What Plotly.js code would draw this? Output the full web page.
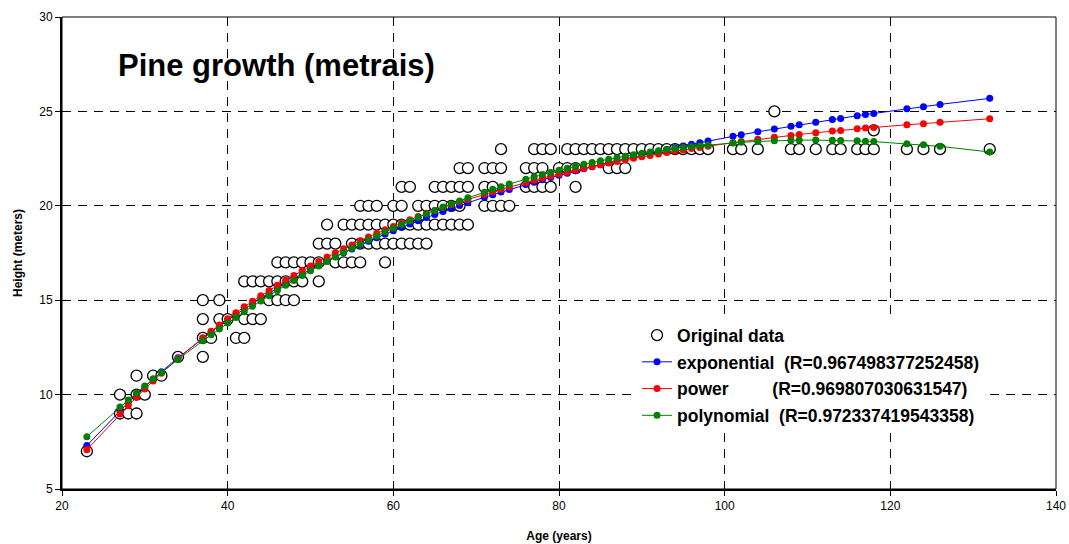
<!DOCTYPE html>
<html>
<head>
<meta charset="utf-8">
<script src="https://cdn.plot.ly/plotly-3.0.1.min.js"></script>
<style>
  html, body { margin: 0; padding: 0; background: #ffffff; }
  #chart { width: 1069px; height: 544px; }
</style>
</head>
<body>
<div id="chart"></div>
<script>
// Measured tree heights (one circle per tree), sorted by age
const obsAge = [23, 27,27, 28, 29,29,29, 30, 31, 32, 34, 37,37,37,37, 38, 39,39, 40, 41, 42,42,42, 43,43, 44,44, 45,45, 46,46,46, 47,47,47, 48,48,48, 49,49, 50, 51,51,51, 52,52, 53,53, 54,54, 55,55,55, 56,56,56,56, 57,57,57, 58,58,58, 59,59,59, 60,60,60, 61,61,61,61, 62,62,62, 63,63,63, 64,64,64, 65,65,65, 66,66,66, 67,67,67, 68,68,68,68, 69,69,69, 71,71,71, 72,72,72, 73,73,73, 74, 76,76, 77,77,77, 78,78,78, 79,79, 80, 81,81, 82,82,82, 83, 84, 85, 86,86, 87,87, 88,88, 89, 90, 91, 92, 93, 94, 95, 96, 97, 98, 101, 102, 104, 106, 108, 109, 111, 113, 114, 116, 117, 118,118, 122, 124, 126, 132];
const obsHeight = [7, 9,10, 9, 9,10,11, 10, 11, 11, 12, 12,13,14,15, 13, 14,15, 14, 13, 13,14,16, 14,16, 14,16, 15,16, 15,16,17, 15,16,17, 15,16,17, 16,17, 17, 16,17,18, 18,19, 17,18, 17,19, 17,18,19, 17,18,19,20, 18,19,20, 18,19,20, 17,18,19, 18,19,20, 18,19,20,21, 18,19,21, 18,19,20, 18,19,20, 19,20,21, 19,20,21, 19,20,21, 19,20,21,22, 19,21,22, 20,21,22, 20,21,22, 20,22,23, 20, 21,22, 21,22,23, 21,22,23, 21,23, 22, 22,23, 21,22,23, 23, 23, 23, 22,23, 22,23, 22,23, 23, 23, 23, 23, 23, 23, 23, 23, 23, 23, 23, 23, 23, 25, 23, 23, 23, 23, 23, 23, 23, 23,24, 23, 23, 23, 23];

// Ages at which the fitted models are evaluated
const fitAge = [23,27,28,29,30,31,32,34,37,38,39,40,41,42,43,44,45,46,47,48,49,50,51,52,53,54,55,56,57,58,59,60,61,62,63,64,65,66,67,68,69,71,72,73,74,76,77,78,79,80,81,82,83,84,85,86,87,88,89,90,91,92,93,94,95,96,97,98,101,102,104,106,108,109,111,113,114,116,117,118,122,124,126,132];

const expFit = [7.30,9.15,9.58,10.01,10.42,10.82,11.21,11.95,12.99,13.32,13.64,13.95,14.25,14.55,14.83,15.11,15.38,15.64,15.90,16.14,16.39,16.62,16.85,17.08,17.30,17.51,17.71,17.92,18.12,18.31,18.50,18.68,18.86,19.03,19.21,19.38,19.54,19.70,19.86,20.01,20.16,20.45,20.59,20.73,20.86,21.13,21.25,21.38,21.50,21.62,21.73,21.85,21.96,22.07,22.18,22.29,22.39,22.50,22.60,22.70,22.79,22.89,22.98,23.08,23.17,23.26,23.34,23.43,23.68,23.76,23.92,24.07,24.22,24.29,24.43,24.57,24.63,24.77,24.83,24.89,25.14,25.25,25.37,25.69];

const powFit = [7.08,8.97,9.42,9.87,10.30,10.72,11.13,11.91,13.01,13.36,13.69,14.02,14.33,14.65,14.94,15.23,15.52,15.79,16.06,16.31,16.57,16.81,17.05,17.29,17.51,17.73,17.93,18.15,18.35,18.54,18.73,18.91,19.09,19.26,19.43,19.60,19.75,19.91,20.06,20.20,20.34,20.61,20.74,20.87,20.99,21.24,21.35,21.47,21.58,21.68,21.78,21.89,21.99,22.08,22.18,22.27,22.35,22.44,22.52,22.60,22.67,22.75,22.82,22.90,22.96,23.03,23.09,23.16,23.34,23.40,23.52,23.63,23.73,23.78,23.87,23.96,23.99,24.08,24.12,24.15,24.29,24.35,24.42,24.61];

const polyFit = [7.77,9.34,9.72,10.09,10.46,10.82,11.17,11.86,12.85,13.17,13.48,13.79,14.09,14.39,14.68,14.96,15.24,15.52,15.79,16.05,16.31,16.56,16.81,17.05,17.29,17.52,17.75,17.97,18.19,18.40,18.61,18.81,19.01,19.20,19.39,19.57,19.75,19.93,20.09,20.26,20.42,20.72,20.87,21.01,21.15,21.41,21.54,21.66,21.77,21.88,21.99,22.10,22.20,22.29,22.38,22.47,22.55,22.63,22.71,22.78,22.85,22.91,22.98,23.03,23.09,23.14,23.18,23.22,23.33,23.36,23.41,23.45,23.47,23.48,23.48,23.47,23.46,23.44,23.42,23.40,23.29,23.23,23.15,22.85];

const xTicks = [20, 40, 60, 80, 100, 120, 140];
const yTicks = [5, 10, 15, 20, 25, 30];

const nb = '\u00A0';
const seriesNames = [
  'Original data',
  'exponential' + nb.repeat(2) + '(R=0.967498377252458)',
  'power' + nb.repeat(9) + '(R=0.969807030631547)',
  'polynomial' + nb.repeat(2) + '(R=0.972337419543358)'
];

const FONT = 'Arial, "Liberation Sans", sans-serif';

function fitTrace(y, color, name, group) {
  return {
    type: 'scatter', mode: 'lines+markers', x: fitAge, y: y, name: name,
    legendgroup: group,
    line: { color: color, width: 1 },
    marker: { color: color, size: 7, symbol: 'circle' },
    hoverinfo: 'skip'
  };
}

const traces = [
  {
    type: 'scatter', mode: 'markers', x: obsAge, y: obsHeight, name: seriesNames[0],
    legendgroup: 'g0',
    marker: { symbol: 'circle', size: 11, color: '#ffffff', line: { color: '#000000', width: 1.3 } },
    hoverinfo: 'skip'
  },
  fitTrace(expFit, '#0000ff', seriesNames[1], 'g1'),
  fitTrace(powFit, '#ff0000', seriesNames[2], 'g2'),
  fitTrace(polyFit, '#008000', seriesNames[3], 'g3')
];

const gridStyle = { showgrid: true, gridcolor: '#000000', gridwidth: 1, griddash: '9px,7px' };

const layout = {
  width: 1069, height: 544,
  margin: { l: 62, r: 13, t: 17, b: 55 },
  paper_bgcolor: '#ffffff', plot_bgcolor: '#ffffff',
  font: { family: FONT, color: '#000000', size: 12 },
  showlegend: true,
  legend: {
    x: 0.5785, y: 0.364, xanchor: 'left', yanchor: 'top',
    bgcolor: '#ffffff', borderwidth: 0,
    font: { family: FONT, size: 17.5, color: '#000000', weight: 'bold' },
    tracegroupgap: 1, itemwidth: 30
  },
  xaxis: Object.assign({
    range: [20, 140], tickvals: xTicks, ticktext: xTicks.map(String),
    ticks: 'outside', ticklen: 5, tickcolor: '#000000', tickwidth: 1,
    showline: true, linecolor: '#000000', linewidth: 2,
    zeroline: false, automargin: false,
    tickfont: { family: FONT, size: 12, color: '#000000' },
    title: { text: 'Age (years)', font: { family: FONT, size: 12, color: '#000000', weight: 'bold' }, standoff: 19 }
  }, gridStyle),
  yaxis: Object.assign({
    range: [5, 30], tickvals: yTicks, ticktext: yTicks.map(String),
    ticks: 'outside', ticklen: 5, tickcolor: '#000000', tickwidth: 1,
    showline: true, linecolor: '#000000', linewidth: 2,
    zeroline: false, automargin: false,
    tickfont: { family: FONT, size: 12, color: '#000000' },
    title: { text: 'Height (meters)', font: { family: FONT, size: 12, color: '#000000', weight: 'bold' }, standoff: 14 }
  }, gridStyle),
  shapes: [
    { type: 'rect', xref: 'paper', yref: 'paper', x0: 0, x1: 1, y0: 0, y1: 1,
      line: { color: '#000000', width: 1 }, fillcolor: 'rgba(0,0,0,0)', layer: 'above' }
  ],
  annotations: [
    { text: 'Pine growth (metrais)', xref: 'paper', yref: 'paper', x: 0.0543, y: 0.898,
      xanchor: 'left', yanchor: 'middle', showarrow: false,
      font: { family: FONT, size: 31, color: '#000000', weight: 'bold' } }
  ]
};

Plotly.newPlot('chart', traces, layout, { staticPlot: true, displayModeBar: false });
</script>
</body>
</html>
